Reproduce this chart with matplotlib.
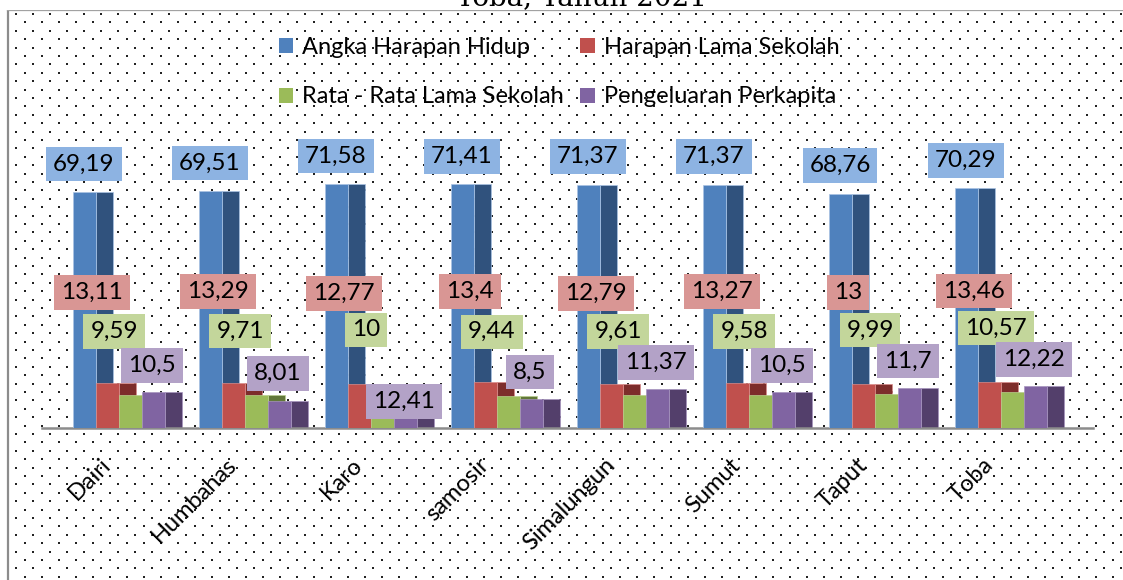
import numpy as np
import matplotlib.pyplot as plt
from matplotlib.patches import Patch

plt.rcParams['font.family'] = ['Lato', 'DejaVu Sans']

# Data IPM per kabupaten
kabupaten = ['Dairi', 'Humbahas', 'Karo', 'samosir', 'Simalungun', 'Sumut', 'Taput', 'Toba']
ahh = [69.19, 69.51, 71.58, 71.41, 71.37, 71.37, 68.76, 70.29]
hls = [13.11, 13.29, 12.77, 13.4, 12.79, 13.27, 13.0, 13.46]
rls = [9.59, 9.71, 10.0, 9.44, 9.61, 9.58, 9.99, 10.57]
pengeluaran = [10.5, 8.01, 12.41, 8.5, 11.37, 10.5, 11.7, 12.22]
nama_seri = ['Angka Harapan Hidup', 'Harapan Lama Sekolah',
             'Rata - Rata Lama Sekolah', 'Pengeluaran Perkapita']

seri = [ahh, hls, rls, pengeluaran]
depan = ['#4F81BD', '#C0504D', '#9BBB59', '#8064A2']
samping = ['#30527D', '#7D2D2B', '#62783A', '#533F6B']
tepi = ['#A9C3E3', '#D98C8A', '#B9CF8E', '#A693BE']
kotak = ['#8DB3E2', '#D99694', '#C3D69B', '#B3A2C7']

# geser label (piksel) relatif terhadap batang
geser_x = [11, 19, 41, 79]
geser_y = [28, 91, 64, 27]
# label yang dipindah manual di grafik asli (seri, kabupaten): geser y
geser_khusus = {(3, 2): -43}

W, H = 1123, 580
fig = plt.figure(figsize=(W / 100, H / 100), dpi=100)

# latar belakang bertitik + bingkai
bg = fig.add_axes([0, 0, 1, 1])
bg.set_xlim(0, W)
bg.set_ylim(H, 0)
bg.axis('off')
titik_x, titik_y = [], []
for k, yy in enumerate(np.arange(14, H, 8.4)):
    xs = np.arange(16 + (8.5 if k % 2 else 0), W, 17)
    titik_x.extend(xs)
    titik_y.extend([yy] * len(xs))
bg.scatter(titik_x, titik_y, s=2.2, marker='s', color='#222222', linewidths=0)
bg.plot([8, 8], [9.5, H], color='#8C8C8C', lw=1.6)
bg.plot([8, W], [9.5, 9.5], color='#8C8C8C', lw=1.6)
bg.add_patch(plt.Rectangle((0, 0), W, 8.5, color='white', zorder=3))
bg.text(582, 5, 'Toba, Tahun 2021', ha='center', va='baseline',
        family='DejaVu Serif', fontsize=20, zorder=4)

# grafik utama
px = 126.0
ax = fig.add_axes([42 / W, 152 / H, 1051 / W, 298 / H])
ax.set_facecolor('none')
ax.set_xlim((42 - 73) / px, (1093 - 73) / px)
ax.set_ylim(0, 298 / 3.41)

w = 23 / px
ws = 17 / px
x0 = np.arange(len(kabupaten))
for s, vals in enumerate(seri):
    ax.bar(x0 + (s + 1) * w, vals, width=ws, align='edge', color=samping[s],
           edgecolor=tepi[s], linewidth=0.5, zorder=2)
    ax.bar(x0 + s * w, vals, width=w, align='edge', color=depan[s],
           edgecolor=tepi[s], linewidth=0.5, zorder=3)

for s, vals in enumerate(seri):
    for i, v in enumerate(vals):
        teks = f'{v:g}'.replace('.', ',')
        dy = geser_y[s] + geser_khusus.get((s, i), 0)
        ax.annotate(teks, (i + geser_x[s] / px, v), xytext=(0, dy),
                    textcoords='offset pixels', ha='center', va='center',
                    fontsize=17.5, zorder=5,
                    bbox=dict(boxstyle='square,pad=0.28', fc=kotak[s], ec='none'))

for sp in ['top', 'right', 'left']:
    ax.spines[sp].set_visible(False)
ax.spines['bottom'].set_color('#8C8C8C')
ax.spines['bottom'].set_linewidth(1.8)
ax.set_yticks([])
ax.set_xticks(x0 + 27 / px)
ax.set_xticklabels(kabupaten, rotation=45, ha='right', va='top',
                   rotation_mode='anchor', fontsize=17)
ax.tick_params(axis='x', length=0, pad=19)

urutan = [0, 2, 1, 3]
handles = [Patch(facecolor=depan[s]) for s in urutan]
fig.legend(handles, [nama_seri[s] for s in urutan], ncol=2, frameon=False,
           loc='upper left', bbox_to_anchor=(279 / W, 1 - 37 / H),
           fontsize=17, handlelength=0.6, handleheight=0.6,
           handletextpad=0.38, columnspacing=0.7, labelspacing=1.2,
           borderpad=0, borderaxespad=0)

fig.savefig('out.png', dpi=100)
